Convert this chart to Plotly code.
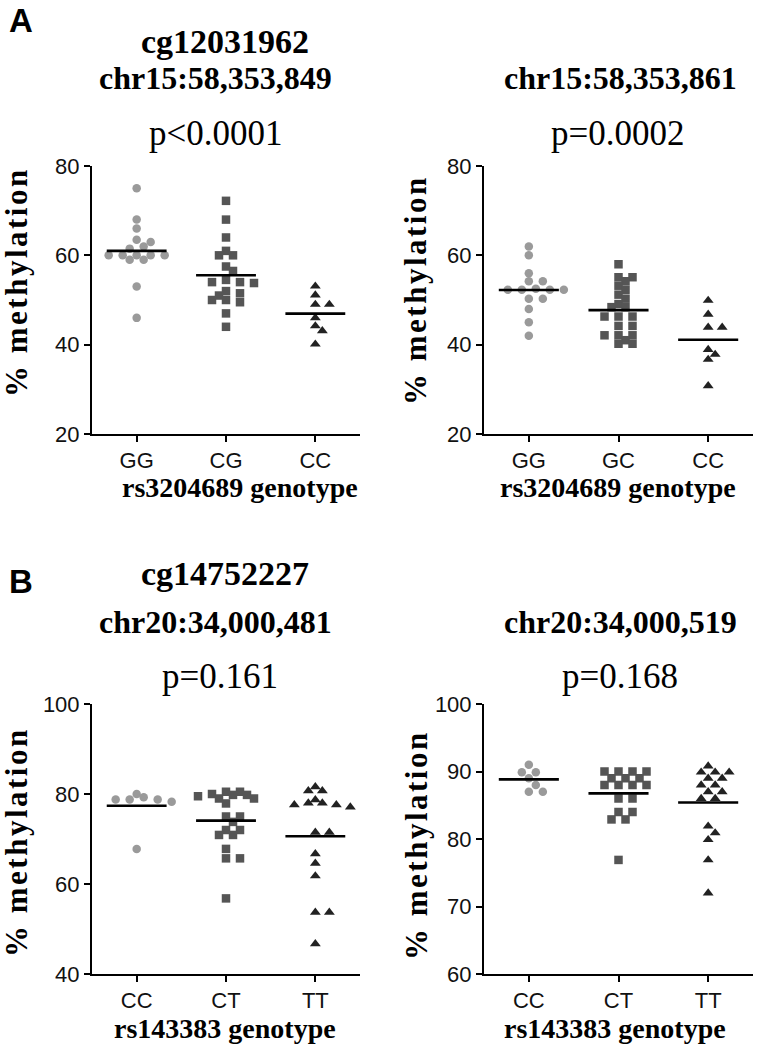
import plotly.graph_objects as go

# ---------------- data ----------------
A_title = "cg12031962"
B_title = "cg14752227"
panel_sites = ["chr15:58,353,849", "chr15:58,353,861", "chr20:34,000,481", "chr20:34,000,519"]
panel_p = ["p<0.0001", "p=0.0002", "p=0.161", "p=0.168"]
panel_xtitle = ["rs3204689 genotype", "rs3204689 genotype", "rs143383 genotype", "rs143383 genotype"]
panel_cats = [["GG", "CG", "CC"], ["GG", "GC", "CC"], ["CC", "CT", "TT"], ["CC", "CT", "TT"]]
panel_yrange = [[20, 80], [20, 80], [40, 100], [60, 100]]
panel_ydtick = [20, 20, 20, 10]

A1_g1 = [75, 68, 66, 63.5, 63, 62, 61.5, 60, 60, 60, 60, 60, 59, 59, 53, 46]
A1_g2 = [72.2, 68, 64, 61, 60, 60, 57.5, 56.5, 54.5, 54, 54, 53.8, 52, 51.5, 51, 50, 50, 49.5, 47, 44]
A1_g3 = [53.1, 51.1, 49, 49, 46, 44.2, 43.1, 40.1]

A2_g1 = [62, 60, 56, 54.2, 54.2, 52.5, 52.3, 52.3, 52.3, 52.3, 50.3, 50.3, 48, 45, 42]
A2_g2 = [58, 55.1, 55.1, 54.2, 53.2, 52.3, 51.2, 50.3, 49.1, 48.4, 48.4, 46.3, 46.3, 46.3,
         44.2, 44.2, 42.1, 42.1, 42.1, 41, 40.2, 40.2]
A2_g3 = [49.9, 46.8, 43.9, 43.9, 38.9, 37.8, 36.7, 30.8]

B1_g1 = [80, 79.3, 78.8, 78.3, 78.8, 78.8, 67.8]
B1_g2 = [80.5, 80.5, 80, 79.8, 79.8, 79.5, 79, 79, 77.9, 75, 75, 73.8, 72, 72, 70.9, 70.9,
         67.8, 65.7, 65.7, 56.8]
B1_g3 = [81.6, 80.7, 80.7, 78.7, 78, 78, 77.6, 77.6, 77.1, 71.5, 71.5, 66.7, 64.6, 61.8,
         53.7, 53.7, 46.7]

B2_g1 = [91, 89.9, 89.9, 89, 88, 87, 87]
B2_g2 = [90, 90, 90, 90, 89, 89, 89, 88, 88, 88, 88, 86, 86, 84, 84, 82.9, 82.9, 76.9]
B2_g3 = [90.8, 89.9, 89.9, 89.9, 89, 89, 88, 88, 87, 87, 86, 86, 81.9, 80.9, 79.9, 76.9, 72]

panel_groups = [[A1_g1, A1_g2, A1_g3], [A2_g1, A2_g2, A2_g3],
                [B1_g1, B1_g2, B1_g3], [B2_g1, B2_g2, B2_g3]]

# ---------------- style / layout ----------------
W, H = 757, 1052
SERIF = "Liberation Serif, Times New Roman, serif"
SANS = "Liberation Sans, Arial, sans-serif"
group_symbols = ["circle", "square", "triangle-up"]
group_colors = ["#9a9a9a", "#555555", "#222222"]
group_sizes = [8.5, 8.5, 9.5]

# plot-area boxes in pixels: (left, right, top, bottom)
boxes = [(92, 360, 166, 434), (484, 753, 166, 434), (92, 360, 704, 974), (484, 753, 704, 974)]
XR = [-0.5, 2.5]


def px_x(x):
    return x / W


def px_y(y):
    return 1 - y / H


def beeswarm(vals, y_px_per_unit, x_px_per_unit, step=7.0, dist=7.6):
    order = sorted(range(len(vals)), key=lambda i: -vals[i])
    placed = []
    offs = [0.0] * len(vals)
    cands = [0]
    for j in range(1, 20):
        cands += [j, -j]
    for i in order:
        yv = vals[i] * y_px_per_unit
        xo = 0.0
        for c in cands:
            xo = c * step
            if all(((xo - a) ** 2 + (yv - b) ** 2) ** 0.5 >= dist for (a, b) in placed):
                break
        placed.append((xo, yv))
        offs[i] = xo / x_px_per_unit
    return offs


fig = go.Figure()
layout_axes = {}
for p in range(4):
    l, r, t, b = boxes[p]
    xn = "" if p == 0 else str(p + 1)
    xax = "x" + xn
    yax = "y" + xn
    y0, y1 = panel_yrange[p]
    ypu = (b - t) / (y1 - y0)
    xpu = (r - l) / (XR[1] - XR[0])
    for g, vals in enumerate(panel_groups[p]):
        offs = beeswarm(vals, ypu, xpu)
        fig.add_trace(go.Scatter(
            x=[g + o for o in offs], y=vals, mode="markers",
            marker=dict(symbol=group_symbols[g], color=group_colors[g], size=group_sizes[g],
                        line=dict(width=0)),
            xaxis=xax, yaxis=yax, showlegend=False, hoverinfo="y"))
        m = sum(vals) / len(vals)
        fig.add_trace(go.Scatter(
            x=[g - 0.335, g + 0.335], y=[m, m], mode="lines",
            line=dict(color="black", width=2.6),
            xaxis=xax, yaxis=yax, showlegend=False, hoverinfo="skip"))
    axis_common = dict(showline=True, linecolor="black", linewidth=2, ticks="outside",
                       ticklen=6, tickwidth=2, tickcolor="black", showgrid=False,
                       zeroline=False, automargin=False,
                       tickfont=dict(family=SANS, size=22, color="#111"))
    layout_axes["xaxis" + xn] = dict(
        domain=[px_x(l), px_x(r)], range=XR, anchor=yax,
        tickmode="array", tickvals=[0, 1, 2], ticktext=panel_cats[p], **axis_common)
    layout_axes["yaxis" + xn] = dict(
        domain=[px_y(b), px_y(t)], range=[y0, y1], anchor=xax,
        tick0=y0, dtick=panel_ydtick[p], **axis_common)

fig.update_layout(width=W, height=H, margin=dict(l=0, r=0, t=0, b=0, pad=0),
                  paper_bgcolor="white", plot_bgcolor="white", **layout_axes)

ann = []


def add_text(text, x, y, size, family, bold=False, angle=0, spacing=0):
    t = ("<b>%s</b>" % text) if bold else text
    if spacing:
        t = '<span style="letter-spacing:%spx">%s</span>' % (spacing, t)
    ann.append(dict(text=t, x=px_x(x), y=px_y(y),
                    xref="paper", yref="paper", showarrow=False, xanchor="center",
                    yanchor="middle", textangle=angle,
                    font=dict(family=family, size=size, color="black")))


add_text("A", 21, 21, 33, SANS, bold=True)
add_text("B", 21, 581, 33, SANS, bold=True)
add_text(A_title, 225, 41, 34, SERIF, bold=True)
add_text(B_title, 225, 573, 34, SERIF, bold=True)

site_pos = [(215, 78), (620, 78), (215, 622), (620, 622)]
p_pos = [(216, 133), (618, 133), (220, 676), (620, 676)]
xt_pos = [(240, 488), (618, 488), (225, 1028), (615, 1028)]
yt_pos = [(16, 282), (416, 290), (16, 842), (416, 845)]
for p in range(4):
    add_text(panel_sites[p], site_pos[p][0], site_pos[p][1], 32, SERIF, bold=True)
    add_text(panel_p[p], p_pos[p][0], p_pos[p][1], 35, SERIF)
    add_text(panel_xtitle[p], xt_pos[p][0], xt_pos[p][1], 28, SERIF, bold=True)
    add_text("% methylation", yt_pos[p][0], yt_pos[p][1], 31, SERIF, bold=True, angle=-90,
             spacing=2.5)

fig.update_layout(annotations=ann)
fig.write_html("out.html", config={"displayModeBar": False},
               post_script="document.body.style.margin='0';document.body.style.overflow='hidden';")
